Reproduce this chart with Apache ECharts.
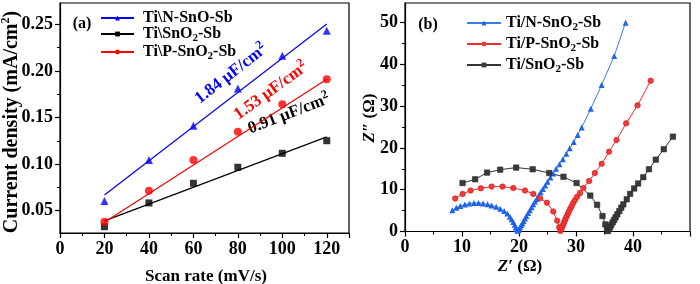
<!DOCTYPE html>
<html>
<head>
<meta charset="utf-8">
<script src="https://cdn.jsdelivr.net/npm/echarts@6.0.0/dist/echarts.min.js"></script>
<style>
  html, body { margin: 0; padding: 0; background: #fff; }
  #chart { width: 700px; height: 284px; }
</style>
</head>
<body>
<div id="chart"></div>
<script>
// ---- (a) current density vs scan rate ----
const scanRate = [20, 40, 60, 80, 100, 120];
const jNSnO = [0.0604, 0.1044, 0.1412, 0.1813, 0.2163, 0.2431];
const jSnO2 = [0.0328, 0.0583, 0.0794, 0.0966, 0.1116, 0.1251];
const jPSnO2 = [0.0382, 0.0715, 0.1044, 0.1348, 0.1642, 0.1910];
// linear fits, read at both ends
const fitRate = [20, 120];
const fitNSnO = [0.0668, 0.2505];
const fitSnO2 = [0.0390, 0.1292];
const fitPSnO2 = [0.0376, 0.1912];
const yTicksA = [0.05, 0.10, 0.15, 0.20, 0.25];
const yMinorA = [0.075, 0.125, 0.175, 0.225];

// ---- (b) Nyquist plots ----
const nRe = [8.3, 9.0, 9.7, 10.5, 11.3, 12.1, 12.9, 13.7, 14.5, 15.2, 16.0, 16.7, 17.4, 17.95, 18.4, 18.7, 19.0, 19.25, 19.45, 19.6, 19.75,
  19.9, 20.05, 20.2, 20.4, 20.6, 20.8, 21.05, 21.3, 21.6, 21.9, 22.2, 22.5, 22.8, 23.1, 23.45, 23.8, 24.2, 24.6, 25.0, 25.5, 26.0, 26.5,
  27.1, 27.7, 28.3, 28.9, 29.6, 30.3, 31.0, 32.6, 34.5, 36.7, 38.7];
const nIm = [5.1, 5.7, 6.1, 6.45, 6.7, 6.85, 6.85, 6.7, 6.5, 6.25, 5.9, 5.45, 4.9, 4.3, 3.55, 2.95, 2.25, 1.6, 1.0, 0.55, 0.15,
  0.35, 0.7, 1.1, 1.55, 2.0, 2.5, 3.1, 3.7, 4.4, 5.1, 5.8, 6.5, 7.2, 7.8, 8.6, 9.4, 10.2, 11.0, 11.9, 12.9, 13.9, 15.0,
  16.1, 17.3, 18.6, 19.9, 21.4, 23.1, 24.9, 29.4, 35.1, 42.0, 50.0];
const pRe = [8.8, 10.1, 11.5, 13.3, 15.2, 17.1, 19.0, 21.05, 22.5, 23.7, 24.9, 26.0, 26.7, 27.05, 27.25, 27.4, 27.55, 27.7, 27.85, 28.0,
  28.15, 28.35, 28.55, 28.75, 29.0, 29.25, 29.5, 29.8, 30.2, 30.7, 31.3, 32.3, 33.3, 34.5, 35.8, 37.1, 38.8, 40.8, 43.1];
const pIm = [7.9, 9.0, 9.8, 10.35, 10.75, 10.75, 10.4, 9.8, 9.0, 7.95, 6.9, 4.8, 2.6, 1.0, 0.1, 0.5, 1.0, 1.5, 2.0, 2.5,
  3.0, 3.6, 4.2, 4.8, 5.5, 6.1, 6.8, 7.5, 8.3, 9.2, 10.4, 12.1, 14.0, 16.2, 19.1, 21.9, 25.9, 30.2, 36.1];
const sRe = [10.1, 12.3, 14.4, 16.7, 19.5, 22.4, 25.3, 27.8, 30.1, 32.5, 33.7, 34.65, 35.15, 35.45, 35.6, 35.8, 36.0, 36.2, 36.45,
  36.7, 36.95, 37.25, 37.6, 37.95, 38.3, 38.9, 39.5, 40.2, 40.9, 41.8, 42.8, 44.0, 45.4, 47.0];
const sIm = [11.6, 12.5, 14.1, 14.8, 15.3, 14.9, 14.0, 13.1, 11.6, 8.6, 6.4, 3.7, 1.7, 0.6, 0.1, 0.6, 1.1, 1.6, 2.2,
  2.8, 3.4, 4.1, 4.9, 5.7, 6.5, 7.7, 9.0, 10.3, 11.5, 13.0, 14.9, 17.2, 19.7, 22.7];
const yTicksB = [0, 10, 20, 30, 40, 50];

const serif = '"Liberation Serif", "Times New Roman", serif';
const zip = (xs, ys) => xs.map((x, i) => [x, ys[i]]);

const chart = echarts.init(document.getElementById('chart'));

const axisColor = '#000';
const tickFont = { fontFamily: serif, fontWeight: 'bold', fontSize: 18, color: '#000' };

// subscript pieces for the legends
const legendRich = {
  t: { fontFamily: serif, fontWeight: 'bold', fontSize: 16, lineHeight: 20, color: '#000' },
  s: { fontFamily: serif, fontWeight: 'bold', fontSize: 11, lineHeight: 11, verticalAlign: 'bottom', color: '#000' }
};
const legendLabels = {
  'Ti\\N-SnO-Sb': '{t|Ti\\N-SnO-Sb}',
  'Ti\\SnO2-Sb': '{t|Ti\\SnO}{s|2}{t|-Sb}',
  'Ti\\P-SnO2-Sb': '{t|Ti\\P-SnO}{s|2}{t|-Sb}',
  'Ti/N-SnO2-Sb': '{t|Ti/N-SnO}{s|2}{t|-Sb}',
  'Ti/P-SnO2-Sb': '{t|Ti/P-SnO}{s|2}{t|-Sb}',
  'Ti/SnO2-Sb': '{t|Ti/SnO}{s|2}{t|-Sb}'
};

function baseX(grid, max, interval) {
  return {
    gridIndex: grid, type: 'value', min: 0, max: max, interval: interval,
    axisLine: { show: true, onZero: false, lineStyle: { color: axisColor, width: 1.2 } },
    axisTick: { show: true, inside: false, length: 5, lineStyle: { color: axisColor, width: 1.2 } },
    minorTick: { show: true, splitNumber: 2, length: 3, lineStyle: { color: axisColor, width: 1 } },
    axisLabel: Object.assign({ margin: 7, showMaxLabel: false }, tickFont),
    splitLine: { show: false }, minorSplitLine: { show: false }
  };
}

const titleText = (text, x, y, rot, size, color) => ({
  type: 'text', x: x, y: y, rotation: rot,
  style: {
    text: text, fill: color, align: 'center', verticalAlign: 'middle',
    font: 'bold ' + size + 'px ' + serif,
    lineHeight: size + 5,
    rich: {
      p: { fontFamily: serif, fontWeight: 'bold', fontSize: 12, lineHeight: 12, verticalAlign: 'top', fill: color },
      i: { fontFamily: serif, fontWeight: 'bold', fontStyle: 'italic', fontSize: size, lineHeight: size + 5, fill: color }
    }
  }
});

const deg = Math.PI / 180;

const option = {
  animation: false,
  backgroundColor: '#fff',
  grid: [
    { left: 60, top: 3, width: 289, height: 230, show: true, borderColor: '#000', borderWidth: 1.2 },
    { left: 405, top: 3, width: 285, height: 228.5, show: true, borderColor: '#000', borderWidth: 1.2 }
  ],
  xAxis: [
    baseX(0, 130, 20),
    baseX(1, 50, 10)
  ],
  yAxis: [
    {
      gridIndex: 0, type: 'value', position: 'left', min: 0.026, max: 0.273,
      axisLine: { show: true, onZero: false, lineStyle: { color: axisColor, width: 1.2 } },
      axisTick: { show: true, length: 5, customValues: yTicksA, lineStyle: { color: axisColor, width: 1.2 } },
      axisLabel: Object.assign({ margin: 7, customValues: yTicksA, formatter: v => v.toFixed(2) }, tickFont),
      splitLine: { show: false }
    },
    {
      // minor ticks of (a)
      gridIndex: 0, type: 'value', position: 'left', offset: 0, min: 0.026, max: 0.273,
      axisLine: { show: false },
      axisTick: { show: true, length: 3, customValues: yMinorA, lineStyle: { color: axisColor, width: 1 } },
      axisLabel: { show: false },
      splitLine: { show: false }
    },
    {
      gridIndex: 1, type: 'value', position: 'left', min: 0, max: 54.7, interval: 10,
      axisLine: { show: true, onZero: false, lineStyle: { color: axisColor, width: 1.2 } },
      axisTick: { show: true, length: 5, customValues: yTicksB, lineStyle: { color: axisColor, width: 1.2 } },
      minorTick: { show: true, splitNumber: 2, length: 3, lineStyle: { color: axisColor, width: 1 } },
      axisLabel: Object.assign({ margin: 7, customValues: yTicksB }, tickFont),
      splitLine: { show: false }, minorSplitLine: { show: false }
    }
  ],
  legend: [
    {
      orient: 'vertical', left: 100, top: 10, padding: 0, itemWidth: 33, itemHeight: 6, itemGap: 0,
      selectedMode: false, itemStyle: { borderWidth: 0 },
      data: ['Ti\\N-SnO-Sb', 'Ti\\SnO2-Sb', 'Ti\\P-SnO2-Sb'],
      formatter: name => legendLabels[name],
      textStyle: { padding: [0, 0, 0, 4], rich: legendRich }
    },
    {
      orient: 'vertical', left: 466, top: 15, padding: 0, itemWidth: 34, itemHeight: 6, itemGap: 3,
      selectedMode: false, itemStyle: { borderWidth: 0 },
      data: ['Ti/N-SnO2-Sb', 'Ti/P-SnO2-Sb', 'Ti/SnO2-Sb'],
      formatter: name => legendLabels[name],
      textStyle: { padding: [0, 0, 0, 0], rich: legendRich }
    }
  ],
  graphic: [
    titleText('(a)', 82, 24, 0, 16, '#000'),
    titleText('(b)', 428, 25, 0, 16, '#000'),
    titleText('Scan rate (mV/s)', 206, 277, 0, 17, '#000'),
    titleText('Current density (mA/cm{p|2})', 12, 122, 90 * deg, 20, '#000'),
    titleText('{i|Z}′ (Ω)', 520, 267, 0, 17, '#000'),
    titleText('{i|Z}″ (Ω)', 370, 118, 90 * deg, 17, '#000'),
    titleText('1.84 μF/cm{p|2}', 231, 74, 38 * deg, 17, '#0000ff'),
    titleText('1.53 μF/cm{p|2}', 271, 91, 36 * deg, 17, '#ff0000'),
    titleText('0.91 μF/cm{p|2}', 289, 114, 21 * deg, 17, '#000000')
  ],
  series: [
    // (a) measured points
    { type: 'scatter', name: 'pN', xAxisIndex: 0, yAxisIndex: 0, symbol: 'triangle', symbolSize: 8, itemStyle: { color: '#0000ff' }, data: zip(scanRate, jNSnO), z: 3 },
    { type: 'scatter', name: 'pS', xAxisIndex: 0, yAxisIndex: 0, symbol: 'rect', symbolSize: 7, itemStyle: { color: '#000' }, data: zip(scanRate, jSnO2), z: 3 },
    { type: 'scatter', name: 'pP', xAxisIndex: 0, yAxisIndex: 0, symbol: 'circle', symbolSize: 8, itemStyle: { color: '#ff0000' }, data: zip(scanRate, jPSnO2), z: 3 },
    // (a) fitted lines
    { type: 'line', name: 'Ti\\N-SnO-Sb', xAxisIndex: 0, yAxisIndex: 0, symbol: 'triangle', showSymbol: false, itemStyle: { color: '#0000ff' }, lineStyle: { color: '#0000ff', width: 1.2 }, data: zip(fitRate, fitNSnO) },
    { type: 'line', name: 'Ti\\SnO2-Sb', xAxisIndex: 0, yAxisIndex: 0, symbol: 'rect', showSymbol: false, itemStyle: { color: '#000' }, lineStyle: { color: '#000', width: 1.2 }, data: zip(fitRate, fitSnO2) },
    { type: 'line', name: 'Ti\\P-SnO2-Sb', xAxisIndex: 0, yAxisIndex: 0, symbol: 'circle', showSymbol: false, itemStyle: { color: '#ff0000' }, lineStyle: { color: '#ff0000', width: 1.2 }, data: zip(fitRate, fitPSnO2) },
    // (b) Nyquist
    { type: 'line', name: 'Ti/N-SnO2-Sb', xAxisIndex: 1, yAxisIndex: 2, symbol: 'triangle', symbolSize: 6, showAllSymbol: true,
      itemStyle: { color: '#1f63ea' }, lineStyle: { color: '#3b7cf0', width: 1 }, data: zip(nRe, nIm) },
    { type: 'line', name: 'Ti/P-SnO2-Sb', xAxisIndex: 1, yAxisIndex: 2, symbol: 'circle', symbolSize: 5.5, showAllSymbol: true,
      itemStyle: { color: '#f23a3a', borderColor: '#d41515', borderWidth: 0.6 }, lineStyle: { color: '#ec2b2b', width: 1 }, data: zip(pRe, pIm) },
    { type: 'line', name: 'Ti/SnO2-Sb', xAxisIndex: 1, yAxisIndex: 2, symbol: 'rect', symbolSize: 5.5, showAllSymbol: true,
      itemStyle: { color: '#3a3a3a', borderColor: '#222', borderWidth: 0.5 }, lineStyle: { color: '#333', width: 1 }, data: zip(sRe, sIm) }
  ]
};

chart.setOption(option);
</script>
</body>
</html>
